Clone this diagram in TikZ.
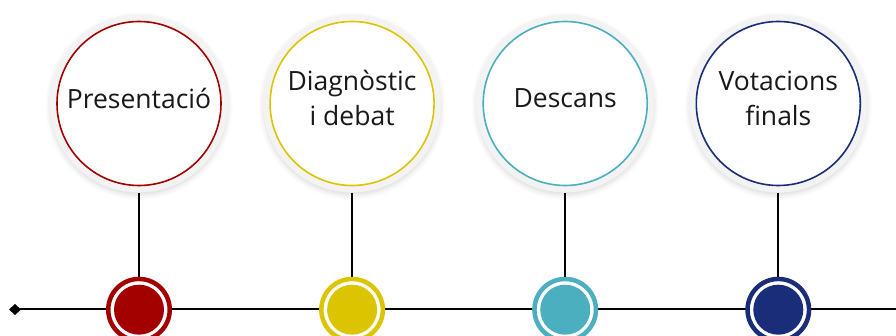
\documentclass[tikz,border=0pt]{standalone}
\usepackage{fontspec}
\setmainfont{Open Sans}
\usetikzlibrary{positioning,arrows.meta,shadows.blur}
\definecolor{cred}{RGB}{163,0,0}
\definecolor{cyel}{RGB}{220,196,0}
\definecolor{ctea}{RGB}{75,175,191}
\definecolor{cnav}{RGB}{26,45,120}
\definecolor{halo1}{RGB}{243,243,243}

\begin{document}
\begin{tikzpicture}[
    x=1pt, y=-1pt,
    halo/.style={
        circle, inner sep=0pt, minimum size=178pt,
        fill=halo1,
        blur shadow={shadow xshift=0pt, shadow yshift=-2.5pt,
            shadow blur radius=5pt, shadow opacity=14}
    },
    bub/.style={
        circle, inner sep=0pt, minimum size=164pt,
        fill=white, line width=1.6pt
    },
    txt/.style={
        font=\fontsize{26.5}{35}\selectfont, align=center,
        inner sep=0pt, text=black!90
    },
    ring/.style={
        circle, inner sep=0pt, minimum size=61.5pt,
        fill=white, line width=4.5pt
    },
    dot/.style={circle, inner sep=0pt, minimum size=50pt},
    l/.style={line width=2pt, color=black}
]
\useasboundingbox (0,0) rectangle (896,336);

% timeline
\coordinate (start) at (9,309.5);
\coordinate (end) at (896,309.5);
\draw [l, {Diamond[length=12pt,width=11pt]}-] (start) -- (end);

\node [halo] (H1) at (139,103.5) {};
\node [halo, right=34.7pt of H1] (H2) {};
\node [halo, right=34.7pt of H2] (H3) {};
\node [halo, right=34.7pt of H3] (H4) {};

\node [bub, draw=cred] (B1) at (H1.center) {};
\node [bub, draw=cyel] (B2) at (H2.center) {};
\node [bub, draw=ctea] (B3) at (H3.center) {};
\node [bub, draw=cnav] (B4) at (H4.center) {};

\node [txt] (T1) at ([yshift=5.5pt]B1.center) {Presentació};
\node [txt] (T2) at ([yshift=5.5pt]B2.center) {Diagnòstic\\i debat};
\node [txt] (T3) at ([yshift=5.5pt]B3.center) {Descans};
\node [txt] (T4) at ([yshift=5.5pt]B4.center) {Votacions\\finals};

\node [ring, draw=cred, below=84pt of H1] (R1) {};
\node [ring, draw=cyel, below=84pt of H2] (R2) {};
\node [ring, draw=ctea, below=84pt of H3] (R3) {};
\node [ring, draw=cnav, below=84pt of H4] (R4) {};

\node [dot, fill=cred] (D1) at (R1.center) {};
\node [dot, fill=cyel] (D2) at (R2.center) {};
\node [dot, fill=ctea] (D3) at (R3.center) {};
\node [dot, fill=cnav] (D4) at (R4.center) {};

\draw (H1) edge [l] (R1);
\draw (H2) edge [l] (R2);
\draw (H3) edge [l] (R3);
\draw (H4) edge [l] (R4);

\end{tikzpicture}
\end{document}
